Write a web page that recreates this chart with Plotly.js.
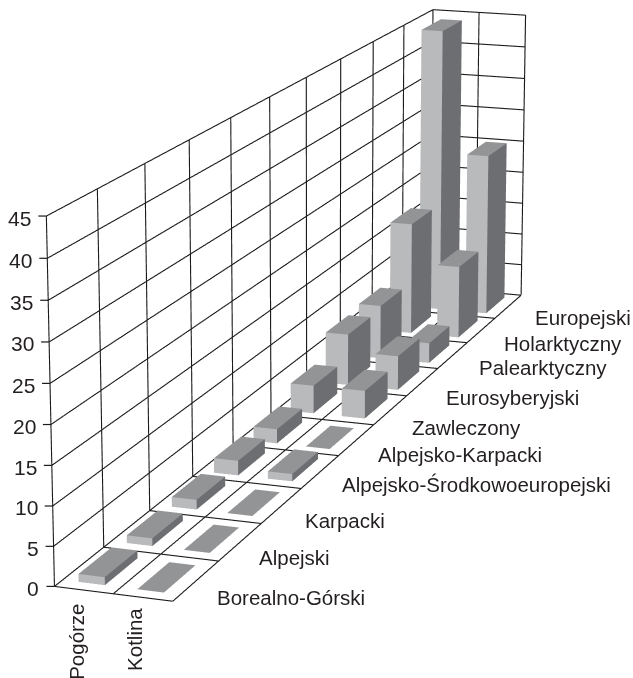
<!DOCTYPE html>
<html><head><meta charset="utf-8">
<script src="https://cdn.plot.ly/plotly-3.0.1.min.js"></script>
<style>html,body{margin:0;padding:0;overflow:hidden;width:633px;height:678px;background:#fff}
#g{position:absolute}</style>
</head><body><div id="g"></div>
<script>
// Species counts by biogeographic element for the two regions.
const elements=['Borealno-Górski','Alpejski','Karpacki','Alpejsko-Środkowoeuropejski','Alpejsko-Karpacki','Zawleczony','Eurosyberyjski','Palearktyczny','Holarktyczny','Europejski'];
const regions=['Pogórze','Kotlina'];
const pogorze=[1,1,1.3,2,2,4,7.5,8,17,44];
const kotlina=[0,0,0,1,0,4,5,3,11,25];
const zTicks=[0,5,10,15,20,25,30,35,40,45];

// Pixel nudges of the category labels off the floor edge.
const elementNudgeX=[-2,-4,0,-1,-1,-1,1,3,0,4];
const elementNudgeY=[2,1,0,-2,0,2,1,-3,-2,-4];
const regionNudgeY=[0,-4];

// A long lens needs a large scene; the window shows only the part around the box.
const SCENE_PX=2650, SCENE_CX=322.44, SCENE_CY=262.47;
const EYE={x:0.9559,y:-2.7115,z:0.7318}, ASPECT={x:0.1022,y:1,z:0.3052};
const g=document.getElementById('g');
g.style.left=(SCENE_CX-SCENE_PX/2)+'px';
g.style.top=(SCENE_CY-SCENE_PX/2)+'px';

const BAR_W=0.45,BAR_D=0.68,TICK_LEN=8;
const FRONT='#b9babc',SIDE='#6d6e71',TOP='#939496',INK='#1c1a1b';

// One box per category: front, right side and top faces, each in a flat tone.
function barMesh(vals,col){
  const x=[],y=[],z=[],i=[],j=[],k=[],fc=[];
  vals.forEach((v,n)=>{
    const x0=col+.5-BAR_W/2,x1=col+.5+BAR_W/2,y0=n+.5-BAR_D/2,y1=n+.5+BAR_D/2,b=x.length;
    [[x0,y0,0],[x1,y0,0],[x1,y1,0],[x0,y1,0],[x0,y0,v],[x1,y0,v],[x1,y1,v],[x0,y1,v]].forEach(c=>{x.push(c[0]);y.push(c[1]);z.push(c[2])});
    const quad=(a,c,d,e,color)=>{i.push(b+a,b+a);j.push(b+c,b+d);k.push(b+d,b+e);fc.push(color,color)};
    quad(0,1,5,4,FRONT);quad(1,2,6,5,SIDE);quad(4,5,6,7,TOP);
  });
  return {type:'mesh3d',name:regions[col],x,y,z,i,j,k,facecolor:fc,flatshading:true,showscale:false,hoverinfo:'skip',
    lighting:{ambient:1,diffuse:0,specular:0,fresnel:0,roughness:1}};
}

// Walls and floor grid as one broken line, heavier than the native scene grid.
function gridTrace(){
  const X=[],Y=[],Z=[],seg=(a,b)=>{X.push(a[0],b[0],null);Y.push(a[1],b[1],null);Z.push(a[2],b[2],null)};
  const top=zTicks[zTicks.length-1],depth=elements.length,wide=regions.length;
  for(let n=0;n<=depth;n++){seg([0,n,0],[0,n,top]);seg([0,n,0],[wide,n,0]);}
  for(let c=0;c<=wide;c++){seg([c,depth,0],[c,depth,top]);seg([c,0,0],[c,depth,0]);}
  zTicks.forEach(t=>{seg([0,0,t],[0,depth,t]);seg([0,depth,t],[wide,depth,t]);});
  return {type:'scatter3d',mode:'lines',x:X,y:Y,z:Z,connectgaps:false,hoverinfo:'skip',showlegend:false,line:{color:INK,width:2.2}};
}

// Paper position of a value on the front corner of the left wall, through the scene camera.
function cornerPaper(v){
  const f=SCENE_PX/2/Math.tan(Math.PI/8);
  const w=[-ASPECT.x/2-EYE.x,-0.5-EYE.y,(v/zTicks[zTicks.length-1]-0.5)*ASPECT.z-EYE.z];
  const n=Math.hypot(EYE.x,EYE.y,EYE.z),F=[-EYE.x/n,-EYE.y/n,-EYE.z/n];
  const r=Math.hypot(F[0],F[1]),R=[F[1]/r,-F[0]/r,0];
  const U=[R[1]*F[2],-R[0]*F[2],R[0]*F[1]-R[1]*F[0]];
  const d=w[0]*F[0]+w[1]*F[1]+w[2]*F[2];
  return [0.5+f*(w[0]*R[0]+w[1]*R[1])/d/SCENE_PX, 0.5+f*(w[0]*U[0]+w[1]*U[1]+w[2]*U[2])/d/SCENE_PX];
}
const tickShapes=zTicks.map(t=>{const [px,py]=cornerPaper(t);
  return {type:'line',xref:'paper',yref:'paper',x0:px-TICK_LEN/SCENE_PX,x1:px,y0:py,y1:py,line:{color:INK,width:1.2}};});

const font={family:'"Liberation Sans",Arial,sans-serif',size:20.5,color:'#231f20'};
const ann=[];
zTicks.forEach(t=>ann.push({x:0,y:0,z:t,text:String(t),showarrow:false,xanchor:'right',yanchor:'middle',xshift:-13,yshift:-2,font:{...font,size:21}}));
elements.forEach((t,n)=>ann.push({x:2,y:n+.5,z:0,text:t,showarrow:false,xanchor:'left',yanchor:'middle',xshift:21+elementNudgeX[n],yshift:-15-elementNudgeY[n],font}));
regions.forEach((t,n)=>ann.push({x:n+.5,y:0,z:0,text:t,showarrow:false,textangle:-90,xanchor:'center',yanchor:'top',xshift:-8,yshift:-12-regionNudgeY[n],font}));

const axis={showgrid:false,zeroline:false,showline:false,showbackground:false,showticklabels:false,showspikes:false,title:{text:''},ticks:''};
Plotly.newPlot(g,[gridTrace(),barMesh(pogorze,0),barMesh(kotlina,1)],{
  width:SCENE_PX,height:SCENE_PX,margin:{l:0,r:0,t:0,b:0},showlegend:false,paper_bgcolor:'#fff',shapes:tickShapes,
  scene:{domain:{x:[0,1],y:[0,1]},aspectmode:'manual',aspectratio:ASPECT,
    camera:{eye:EYE,center:{x:0,y:0,z:0},up:{x:0,y:0,z:1}},annotations:ann,
    xaxis:{...axis,range:[0,2]},
    yaxis:{...axis,range:[0,10]},
    zaxis:{...axis,range:[0,45]}}
},{displayModeBar:false});
</script></body></html>
